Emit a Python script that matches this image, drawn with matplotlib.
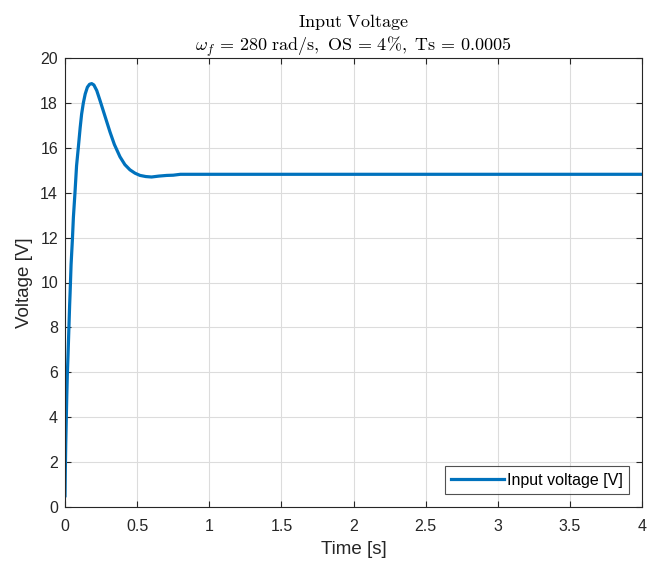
import matplotlib
matplotlib.use("Agg")
import matplotlib.pyplot as plt

# values
time_s = [0.0, 0.002, 0.005, 0.012, 0.016, 0.021, 0.027, 0.032, 0.035, 0.042,
          0.051, 0.058, 0.069, 0.08, 0.092, 0.105, 0.115, 0.127, 0.14, 0.155,
          0.17, 0.185, 0.20, 0.22, 0.243, 0.275, 0.312, 0.342, 0.381, 0.415,
          0.45, 0.485, 0.52, 0.56, 0.60, 0.65, 0.705, 0.75, 0.80, 1.0,
          2.0, 3.0, 4.0]
voltage_v = [0.5, 1.6, 2.8, 4.9, 5.9, 6.8, 8.0, 9.0, 9.5, 10.8,
             11.9, 12.9, 14.0, 15.2, 16.0, 16.9, 17.5, 18.0, 18.4, 18.7,
             18.83, 18.86, 18.8, 18.55, 18.1, 17.45, 16.7, 16.15, 15.6, 15.25,
             15.02, 14.87, 14.77, 14.72, 14.7, 14.74, 14.77, 14.78, 14.82, 14.82,
             14.82, 14.82, 14.82]

x_ticks = [0, 0.5, 1, 1.5, 2, 2.5, 3, 3.5, 4]
x_tick_labels = ["0", "0.5", "1", "1.5", "2", "2.5", "3", "3.5", "4"]
y_ticks = list(range(0, 21, 2))

title_text = (r"$\mathrm{Input\ Voltage}$" + "\n"
              + r"$\omega_f \,=\, 280\ \mathrm{rad/s},\ \mathrm{OS} \,=\, 4\%,"
              + r"\ \mathrm{Ts} \,=\, 0.0005$")

plt.rcParams["font.family"] = ["Liberation Sans", "DejaVu Sans"]
plt.rcParams["mathtext.fontset"] = "cm"

fig = plt.figure(figsize=(6.47, 5.65), dpi=100)
ax = fig.add_axes([0.1005, 0.1027, 0.8918, 0.7946])

ax.plot(time_s, voltage_v, color="#0072BD", linewidth=2.3, label="Input voltage [V]")

ax.set_xlim(0, 4)
ax.set_ylim(0, 20)
ax.set_xticks(x_ticks)
ax.set_xticklabels(x_tick_labels)
ax.set_yticks(y_ticks)
ax.tick_params(direction="in", top=True, right=True, labelsize=11.5,
               color="#262626", labelcolor="#262626", length=4)
ax.tick_params(axis="x", pad=9)
ax.tick_params(axis="y", pad=5)
ax.grid(True, color="#dcdcdc", linewidth=0.8)
for spine in ax.spines.values():
    spine.set_color("#262626")
    spine.set_linewidth(0.8)

ax.set_xlabel("Time [s]", fontsize=13.5, color="#262626", labelpad=5)
ax.set_ylabel("Voltage [V]", fontsize=13.5, color="#262626", labelpad=5)
ax.set_title(title_text, fontsize=13, linespacing=1.15, pad=5)

leg = ax.legend(loc="lower right", fancybox=False, edgecolor="#262626",
                fontsize=11.5, handlelength=3.3, borderaxespad=0.8,
                handletextpad=0.2, borderpad=0.4)
leg.get_frame().set_linewidth(0.8)

fig.savefig("out.png", dpi=100)
